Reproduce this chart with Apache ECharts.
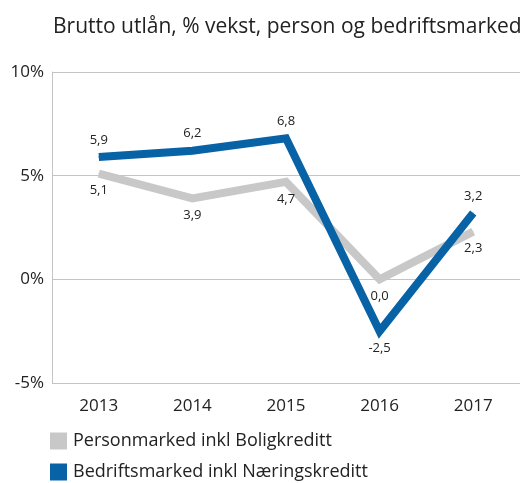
<!DOCTYPE html>
<html>
<head>
<meta charset="utf-8">
<script src="https://cdn.jsdelivr.net/npm/echarts@6/dist/echarts.min.js"></script>
<style>
  html, body { margin: 0; padding: 0; background: #fff; }
  #chart { width: 528px; height: 483px; }
</style>
</head>
<body>
<div id="chart"></div>
<script>
const years = ['2013', '2014', '2015', '2016', '2017']
const personmarked = [5.1, 3.9, 4.7, 0.0, 2.3]
const bedriftsmarked = [5.9, 6.2, 6.8, -2.5, 3.2]
const seriesNames = ['Personmarked inkl Boligkreditt', 'Bedriftsmarked inkl Næringskreditt']

const fontFamily = '"Open Sans", Lato, sans-serif'
const fmt = v => v.toFixed(1).replace('.', ',')

// blue labels go above, except the dip in 2016
const blueData = bedriftsmarked.map(v => ({
  value: v,
  label: { position: v < 0 ? 'bottom' : 'top' }
}))

const chart = echarts.init(document.getElementById('chart'))

chart.setOption({
  animation: false,
  title: {
    text: 'Brutto utlån, % vekst, person og bedriftsmarked',
    left: 48,
    top: 12,
    textStyle: { fontFamily, fontSize: 21, fontWeight: 'normal', color: '#222' }
  },
  legend: {
    orient: 'vertical',
    left: 50,
    top: 432,
    padding: 0,
    itemWidth: 17,
    itemHeight: 17,
    itemGap: 13,
    icon: 'rect',
    data: seriesNames,
    textStyle: { fontFamily, fontSize: 18, color: '#222', padding: [0, 0, 0, 1] }
  },
  grid: { left: 52, right: 8, top: 72, bottom: 100 },
  xAxis: {
    type: 'category',
    data: years,
    axisLine: { show: false },
    axisTick: { show: false },
    axisLabel: { fontFamily, fontSize: 17, color: '#222', margin: 15 }
  },
  yAxis: {
    type: 'value',
    min: -5,
    max: 10,
    interval: 5,
    axisLine: { show: true, lineStyle: { color: '#c4c4c4' } },
    axisTick: { show: false },
    axisLabel: { fontFamily, fontSize: 17, color: '#222', margin: 8, formatter: v => v + '%' },
    splitLine: { lineStyle: { color: '#c4c4c4' } }
  },
  series: [
    {
      name: seriesNames[0],
      type: 'line',
      data: personmarked,
      symbol: 'circle',
      symbolSize: 1,
      color: '#c8c8c8',
      lineStyle: { width: 8, color: '#c8c8c8', join: 'miter' },
      label: {
        show: true,
        position: 'bottom',
        distance: 10,
        fontFamily,
        fontSize: 13,
        color: '#222',
        formatter: p => fmt(p.value)
      },
      emphasis: { disabled: true }
    },
    {
      name: seriesNames[1],
      type: 'line',
      data: blueData,
      symbol: 'circle',
      symbolSize: 1,
      color: '#0862a6',
      lineStyle: { width: 8, color: '#0862a6', join: 'miter' },
      label: {
        show: true,
        distance: 10,
        fontFamily,
        fontSize: 13,
        color: '#222',
        formatter: p => fmt(p.value)
      },
      emphasis: { disabled: true }
    }
  ]
})
</script>
</body>
</html>
